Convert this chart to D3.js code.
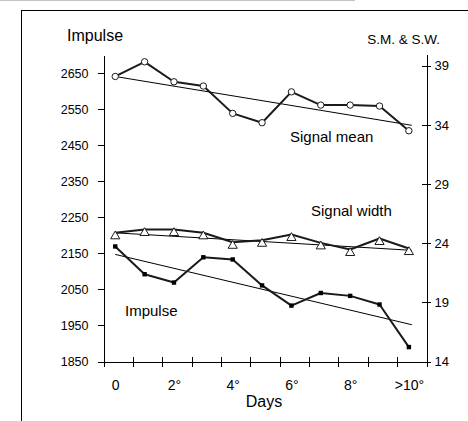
<!DOCTYPE html>
<meta charset="utf-8">
<html>
<head>
<style>
body { margin: 0; background: #fff; }
svg { display: block; font-family: "Liberation Sans", Arial, sans-serif; }
.axis path, .axis line { stroke: #000; shape-rendering: crispEdges; }
.axis text { fill: #000; }
</style>
</head>
<body>
<script src="https://d3js.org/d3.v7.min.js"></script>
<script>

// day index 0..10, labels under every second one
var days = [0, 1, 2, 3, 4, 5, 6, 7, 8, 9, 10];
var dayLabels = ["0", "2°", "4°", "6°", "8°", ">10°"];
var labelDays = [0, 2, 4, 6, 8, 10];

var impulse = [2169, 2092, 2069, 2139, 2133, 2061, 2005, 2040, 2032, 2008, 1890];
var signalMean = [38.1, 39.34, 37.65, 37.29, 34.98, 34.19, 36.8, 35.68, 35.68, 35.6, 33.51];
var signalWidth = [24.88, 25.16, 25.16, 24.88, 24.08, 24.25, 24.74, 24.03, 23.47, 24.4, 23.55];

// trend lines: value at start and end day
var trendDays = [0, 10.1];
var impulseTrend = [2147, 1952];
var meanTrend = [38.1, 33.97];
var widthTrend = [24.88, 23.4];

var leftTicks = [1850, 1950, 2050, 2150, 2250, 2350, 2450, 2550, 2650];
var rightTicks = [14, 19, 24, 29, 34, 39];

var width = 468, height = 421;

var svg = d3.select("body").append("svg")
  .attr("width", width)
  .attr("height", height);

// frame bits
svg.append("line").attr("x1", 0).attr("x2", 355).attr("y1", 0.5).attr("y2", 0.5)
  .attr("stroke", "#c4c4c4").attr("stroke-width", 1);
svg.append("line").attr("x1", 21).attr("x2", 468).attr("y1", 10.5).attr("y2", 10.5)
  .attr("stroke", "#000");
svg.append("line").attr("x1", 21.5).attr("x2", 21.5).attr("y1", 10).attr("y2", 421)
  .attr("stroke", "#000");

var x = d3.scaleLinear().domain([-0.4, 10.6]).range([103.5, 426.5]);
var yL = d3.scaleLinear().domain([1850, 2700]).range([361.5, 55]);
var yR = d3.scaleLinear().domain([14, 40]).range([361.5, 54]);

// left axis
svg.append("g")
  .attr("class", "axis")
  .attr("transform", "translate(" + x(-0.4) + ",0)")
  .call(d3.axisLeft(yL).tickValues(leftTicks).tickFormat(d3.format("d"))
    .tickSize(6).tickSizeOuter(0).tickPadding(9))
  .call(function(g) { g.selectAll("text").attr("font-size", "12.5px").attr("font-family", null); });

// right axis, ticks crossing the line
var ra = svg.append("g")
  .attr("class", "axis")
  .attr("transform", "translate(" + x(10.6) + ",0)")
  .call(d3.axisRight(yR).tickValues(rightTicks).tickSize(4.5).tickSizeOuter(0).tickPadding(3.5));
ra.selectAll(".tick line").attr("x1", -4.5);
ra.selectAll("text").attr("font-size", "13px").attr("font-family", null);

// bottom axis ticks, crossing
var tickPos = d3.range(12).map(function(k) { return -0.4 + k; });
var ba = svg.append("g")
  .attr("class", "axis")
  .attr("transform", "translate(0," + yL(1850) + ")")
  .call(d3.axisBottom(x).tickValues(tickPos).tickSize(5).tickSizeOuter(0).tickFormat(""));
ba.selectAll(".tick line").attr("y1", -5).attr("stroke", "#555");

// bottom labels
var bl = svg.append("g")
  .attr("class", "axis")
  .attr("transform", "translate(0," + yL(1850) + ")")
  .call(d3.axisBottom(x).tickValues(labelDays).tickSize(0).tickPadding(18.5)
    .tickFormat(function(d, i) { return dayLabels[i]; }));
bl.select(".domain").remove();
bl.selectAll("text").attr("font-size", "14px").attr("font-family", null);

// titles
svg.append("text").attr("x", 67).attr("y", 40.5).attr("font-size", "16px").text("Impulse");
svg.append("text").attr("x", 440).attr("y", 43.5).attr("text-anchor", "end")
  .attr("font-size", "13.5px").text("S.M. & S.W.");
svg.append("text").attr("x", 264).attr("y", 406.5).attr("text-anchor", "middle")
  .attr("font-size", "16px").text("Days");
svg.append("text").attr("x", 290).attr("y", 142).attr("font-size", "15px").text("Signal mean");
svg.append("text").attr("x", 311).attr("y", 216).attr("font-size", "15px").text("Signal width");
svg.append("text").attr("x", 125).attr("y", 315.5).attr("font-size", "15px").text("Impulse");

// trend lines
function trend(vals, y) {
  svg.append("path")
    .datum(trendDays)
    .attr("fill", "none")
    .attr("stroke", "#000")
    .attr("stroke-width", 1)
    .attr("d", d3.line().x(function(d) { return x(d); }).y(function(d, i) { return y(vals[i]); }));
}
trend(meanTrend, yR);
trend(widthTrend, yR);
trend(impulseTrend, yL);

function series(vals, y) {
  svg.append("path")
    .datum(days)
    .attr("fill", "none")
    .attr("stroke", "#1a1a1a")
    .attr("stroke-width", 2)
    .attr("stroke-linejoin", "round")
    .attr("d", d3.line().x(function(d) { return x(d); }).y(function(d, i) { return y(vals[i]); }));
}
series(signalMean, yR);
series(signalWidth, yR);
series(impulse, yL);

// markers
svg.selectAll(".mean").data(days).enter().append("circle")
  .attr("class", "mean")
  .attr("cx", function(d) { return x(d); })
  .attr("cy", function(d, i) { return yR(signalMean[i]); })
  .attr("r", 3.2)
  .attr("fill", "#fff")
  .attr("stroke", "#1a1a1a")
  .attr("stroke-width", 1);

svg.selectAll(".width").data(days).enter().append("path")
  .attr("class", "width")
  .attr("transform", function(d, i) { return "translate(" + x(d) + "," + yR(signalWidth[i]) + ")"; })
  .attr("d", "M0,-1.8L4.6,6L-4.6,6Z")
  .attr("fill", "#fff")
  .attr("stroke", "#1a1a1a")
  .attr("stroke-width", 1);

svg.selectAll(".imp").data(days).enter().append("rect")
  .attr("class", "imp")
  .attr("x", function(d) { return x(d) - 2.2; })
  .attr("y", function(d, i) { return yL(impulse[i]) - 2.2; })
  .attr("width", 4.4)
  .attr("height", 4.4)
  .attr("fill", "#000");

</script>
</body>
</html>
